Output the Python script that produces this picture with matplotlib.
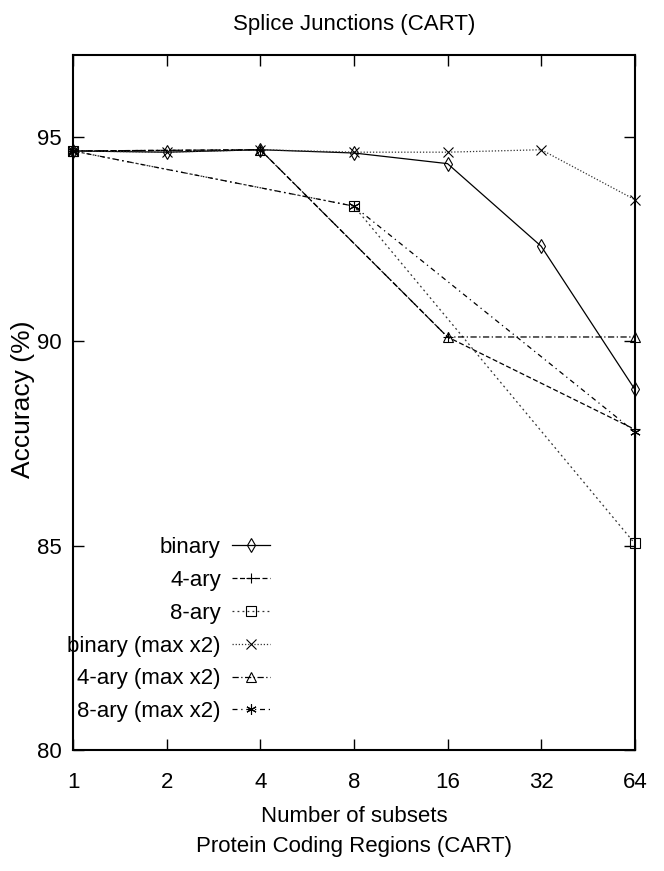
import matplotlib
matplotlib.use("Agg")
import matplotlib.pyplot as plt

NARROW = ["Liberation Sans Narrow", "Liberation Sans", "DejaVu Sans"]
REGULAR = ["Liberation Sans", "DejaVu Sans"]

title = "Splice Junctions (CART)"
xlabel = "Number of subsets"
xlabel2 = "Protein Coding Regions (CART)"
ylabel = "Accuracy (%)"

xticks = [1, 2, 4, 8, 16, 32, 64]
yticks = [80, 85, 90, 95]

labels = ["binary", "4-ary", "8-ary", "binary (max x2)", "4-ary (max x2)", "8-ary (max x2)"]

x_binary = [1, 2, 4, 8, 16, 32, 64]
y_binary = [94.65, 94.62, 94.68, 94.60, 94.34, 92.32, 88.82]

x_4ary = [1, 4, 16, 64]
y_4ary = [94.65, 94.68, 90.10, 87.84]

x_8ary = [1, 8, 64]
y_8ary = [94.65, 93.30, 85.05]

x_binary2 = [1, 2, 4, 8, 16, 32, 64]
y_binary2 = [94.65, 94.62, 94.68, 94.62, 94.62, 94.68, 93.46]

x_4ary2 = [1, 4, 16, 64]
y_4ary2 = [94.65, 94.68, 90.10, 90.10]

x_8ary2 = [1, 8, 64]
y_8ary2 = [94.65, 93.30, 87.78]

plt.rcParams["font.family"] = NARROW

FS = 16

fig = plt.figure(figsize=(6.64, 8.71), dpi=100)
ax = fig.add_axes([0.110, 0.139, 0.846, 0.798])

lw = 0.9
series = [
    (x_binary, y_binary, "-", None, "d", "black"),
    (x_4ary, y_4ary, "--", (4, 2), "+", "black"),
    (x_8ary, y_8ary, ":", (1.5, 2.5), "s", "#333333"),
    (x_binary2, y_binary2, ":", (1, 1.5), "x", "#333333"),
    (x_4ary2, y_4ary2, "-.", (5, 2, 1, 2), "^", "black"),
    (x_8ary2, y_8ary2, "-.", (4, 3, 1, 3), (6, 2, 0), "black"),
]

handles = []
for (xs, ys, ls, dashes, mk, col), lab in zip(series, labels):
    kw = dict(color=col, linewidth=lw, marker=mk, markersize=7.5,
              markerfacecolor="none", markeredgecolor="black",
              markeredgewidth=0.8, label=lab, clip_on=False, zorder=3)
    (ln,) = ax.plot(xs, ys, **kw)
    if dashes is not None:
        ln.set_dashes(dashes)
    handles.append(ln)

ax.set_xscale("log", base=2)
ax.set_xlim(1, 64)
ax.set_ylim(80, 97)
ax.set_xticks(xticks)
ax.set_xticklabels([str(v) for v in xticks])
ax.minorticks_off()
ax.set_yticks(yticks)
ax.set_yticklabels([str(v) for v in yticks])

ax.tick_params(axis="both", which="both", direction="in", length=8, width=1,
               top=True, right=True, labelsize=FS)
ax.tick_params(axis="x", pad=16)
ax.tick_params(axis="y", pad=8)
for sp in ax.spines.values():
    sp.set_linewidth(1.5)
    sp.set_zorder(2)

ax.set_title(title, fontsize=FS, pad=18)
ax.set_xlabel(xlabel + "\n" + xlabel2, fontsize=FS, labelpad=9, linespacing=1.6)
ax.set_ylabel(ylabel, fontsize=19, family=REGULAR)
ax.yaxis.set_label_coords(-0.068, 0.504)

leg = ax.legend(handles=handles, loc="lower right", bbox_to_anchor=(0.35, 0.04),
                frameon=False, markerfirst=False, numpoints=1, fontsize=FS,
                handlelength=1.7, handletextpad=0.5, labelspacing=0.53,
                borderpad=0, borderaxespad=0)

fig.savefig("out.png", dpi=100)
